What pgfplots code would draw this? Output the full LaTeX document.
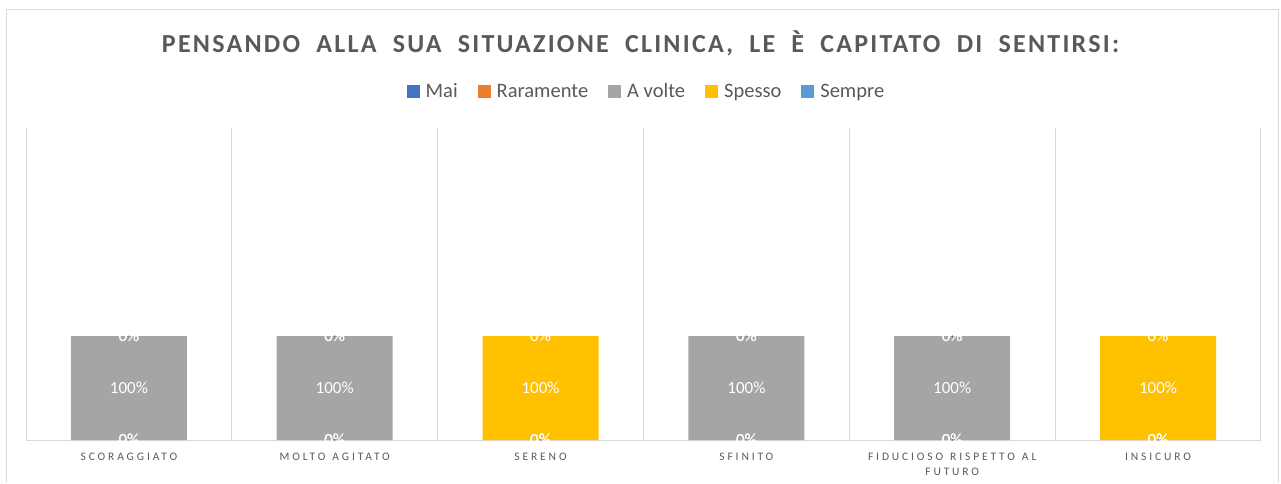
\documentclass[border=0pt]{standalone}
\usepackage{pgfplots}
\usepackage{pgfplotstable}
\pgfplotsset{compat=1.18}
\usepackage{fontspec}
\setmainfont{Carlito}
\newfontfamily\titlefont[LetterSpace=8.6,WordSpace=2]{Carlito}
\newfontfamily\catfont[LetterSpace=25]{Carlito}
\definecolor{cMai}{HTML}{4472C4}
\definecolor{cRar}{HTML}{ED7D31}
\definecolor{cAv}{HTML}{A5A5A5}
\definecolor{cSpe}{HTML}{FFC000}
\definecolor{cSem}{HTML}{5B9BD5}
\definecolor{txt}{HTML}{595959}
\definecolor{gridc}{HTML}{D9D9D9}
\pgfplotstableread{
x mai rar avol spe sem
0 0 0 100 0 0
1 0 0 100 0 0
2 0 0 0 100 0
3 0 0 100 0 0
4 0 0 100 0 0
5 0 0 0 100 0
}\data
\pgfplotsset{sqlegend/.style={legend image code/.code={\draw[##1,draw=none] (0pt,-6.5pt) rectangle (13pt,6.5pt);}}}
\pgfplotsset{lbl/.style={only marks, mark=*, mark size=0.01pt, mark options={draw=none,fill=none},
  point meta=explicit, nodes near coords={\pgfmathprintnumber[fixed,precision=0,assume math mode=true]{\pgfplotspointmeta}\%},
  nodes near coords align={center},
  every node near coord/.append style={anchor=center, text=white, font=\fontsize{17}{20}\selectfont}}}
\begin{document}
\begin{tikzpicture}[x=1pt,y=1pt]
\useasboundingbox (0,0) rectangle (1281,483);
\draw[gridc, line width=1pt] (6,0) -- (6,473) -- (1278,473) -- (1278,0);
\begin{axis}[
  at={(26pt,43pt)}, anchor=south west,
  scale only axis, width=1235pt, height=312pt,
  ybar stacked, bar width=116pt,
  xmin=-0.5, xmax=5.5, ymin=0, ymax=300,
  xtick={0,...,5},
  xticklabels={SCORAGGIATO, MOLTO\hspace{7pt}AGITATO, SERENO, SFINITO, {FIDUCIOSO\hspace{7pt}RISPETTO\hspace{7pt}AL\\FUTURO}, INSICURO},
  xticklabel style={font=\catfont\fontsize{11.5}{15}\selectfont, text=txt, align=center, text width=200pt, yshift=-9pt},
  major tick length=0pt, minor tick length=0pt,
  minor xtick={-0.5,0.5,...,5.5},
  xminorgrids, minor grid style={gridc, line width=1pt},
  ytick=\empty,
  axis x line*=bottom, axis y line=none,
  x axis line style={gridc, line width=1pt, -},
  title={PENSANDO ALLA SUA SITUAZIONE CLINICA, LE È CAPITATO DI SENTIRSI:},
  title style={at={(0.4976,1.2212)}, anchor=base, font=\titlefont\bfseries\fontsize{26}{30}\selectfont, text=txt},
  legend style={at={(0.5024,1.117)}, anchor=center, draw=none, fill=none, legend columns=-1, font=\fontsize{20.5}{24}\selectfont, text=txt, /tikz/every even column/.append style={column sep=18pt}, /tikz/every odd column/.append style={column sep=4pt}},
  every axis plot post/.append style={sqlegend},
]
\addplot[fill=cMai, draw=none] table[x=x, y=mai] {\data};
\addlegendentry{Mai}
\addplot[fill=cRar, draw=none] table[x=x, y=rar] {\data};
\addlegendentry{Raramente}
\addplot[fill=cAv, draw=none] table[x=x, y=avol] {\data};
\addlegendentry{A volte}
\addplot[fill=cSpe, draw=none] table[x=x, y=spe] {\data};
\addlegendentry{Spesso}
\addplot[fill=cSem, draw=none] table[x=x, y=sem] {\data};
\addlegendentry{Sempre}
\end{axis}
\begin{axis}[
  at={(26pt,43pt)}, anchor=south west,
  scale only axis, width=1235pt, height=312pt,
  xmin=-0.5, xmax=5.5, ymin=0, ymax=300,
  hide axis, clip=false,
]
\addplot[lbl] table[x=x, y expr=\thisrow{mai}/2, meta=mai] {\data};
\addplot[lbl] table[x=x, y expr=\thisrow{mai}+\thisrow{rar}/2, meta=rar] {\data};
\addplot[lbl] table[x=x, y expr=\thisrow{mai}+\thisrow{rar}+\thisrow{avol}/2, meta=avol] {\data};
\addplot[lbl] table[x=x, y expr=\thisrow{mai}+\thisrow{rar}+\thisrow{avol}+\thisrow{spe}/2, meta=spe] {\data};
\addplot[lbl] table[x=x, y expr=\thisrow{mai}+\thisrow{rar}+\thisrow{avol}+\thisrow{spe}+\thisrow{sem}/2, meta=sem] {\data};
\end{axis}
\end{tikzpicture}
\end{document}
